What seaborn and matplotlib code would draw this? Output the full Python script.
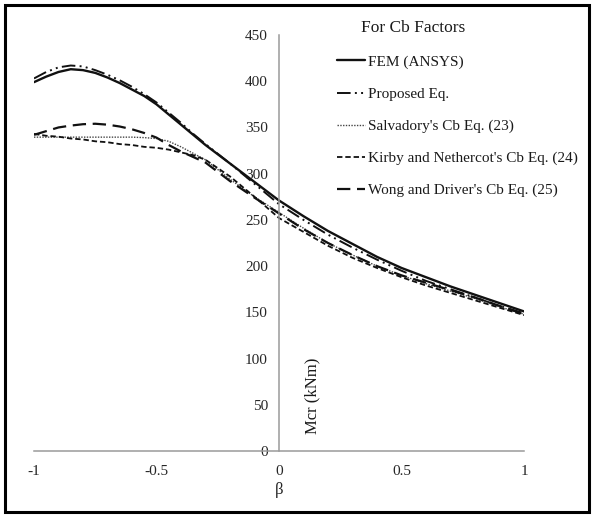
import matplotlib
matplotlib.use("Agg")
import matplotlib.pyplot as plt
import seaborn as sns
import pandas as pd
from matplotlib.patches import Rectangle

beta = [-1.0, -0.95, -0.9, -0.85, -0.8, -0.75, -0.7, -0.65, -0.6, -0.55, -0.5, -0.45,
        -0.4, -0.35, -0.3, -0.2, -0.1, 0.0, 0.1, 0.2, 0.3, 0.4, 0.5, 0.6, 0.7, 0.8, 0.9, 1.0]
fem = [399, 405, 410, 413, 412, 409, 404, 398, 391, 384, 375, 364,
       353, 342, 331, 311, 291, 271, 254, 238, 224, 210, 198, 188, 178, 169, 160, 151]
proposed = [403, 410, 415, 417, 416, 412, 407, 401, 394, 386, 377, 366,
            355, 343, 332, 311, 289, 267, 250, 234, 220, 207, 195, 184, 175, 166, 157, 149]
salvadory = [339.5, 339.5, 339.5, 339.5, 339.5, 339.5, 339.5, 339.5, 339.5, 339, 338, 335,
             329, 322, 315, 294, 275, 258, 241, 225, 212, 200, 190, 181, 173, 165, 156, 148]
kirby = [343, 341, 340, 338, 337, 335, 334, 332, 331, 329, 328, 326,
         323, 320, 315, 297, 275, 252, 237, 222, 209, 198, 188, 179, 171, 163, 155, 147]
wong = [342, 346, 350, 352, 353.5, 354, 353, 351, 348, 344, 339, 331,
        324, 318, 312, 292, 274, 257, 240, 225, 212, 200, 190, 182, 174, 166, 157, 148]

series_names = ["FEM (ANSYS)", "Proposed Eq.", "Salvadory's Cb Eq. (23)",
                "Kirby and Nethercot's Cb Eq. (24)", "Wong and Driver's Cb Eq. (25)"]
x_ticks = [-1, -0.5, 0, 0.5, 1]
x_tick_labels = ["-1", "-0.5", "0", "0.5", "1"]
y_ticks = [0, 50, 100, 150, 200, 250, 300, 350, 400, 450]

sns.set_style("white")
plt.rcParams["font.family"] = ["Liberation Serif", "DejaVu Serif"]

fig = plt.figure(figsize=(5.94, 5.16), dpi=100)
ax = fig.add_axes([34 / 594, 1 - 451 / 516, 490 / 594, 416 / 516])

styles = [
    dict(linestyle="-", linewidth=1.7, color="#111111"),
    dict(linestyle=(0, (7, 2.2, 1, 2.2, 1, 2.2)), linewidth=1.4, color="#111111"),
    dict(linestyle=(0, (1, 1)), linewidth=1.0, color="#444444"),
    dict(linestyle=(0, (3, 1.6)), linewidth=1.3, color="#111111"),
    dict(linestyle=(0, (6, 3)), linewidth=1.6, color="#111111"),
]
all_series = [fem, proposed, salvadory, kirby, wong]
for name, vals, st in zip(series_names, all_series, styles):
    df = pd.DataFrame({"beta": beta, "Mcr": vals})
    sns.lineplot(data=df, x="beta", y="Mcr", ax=ax, label=name, **st)

ax.set_xlim(-1, 1)
ax.set_ylim(0, 450)
ax.set_xticks(x_ticks)
ax.set_xticklabels(x_tick_labels)
ax.set_yticks(y_ticks)

for s in ["top", "right"]:
    ax.spines[s].set_visible(False)
ax.spines["left"].set_position(("data", 0))
ax.spines["bottom"].set_position(("data", 0))
for s in ["left", "bottom"]:
    ax.spines[s].set_color("#9a9a9a")
    ax.spines[s].set_linewidth(1.1)

ax.tick_params(axis="both", direction="out", length=4, width=1, color="#9a9a9a",
               labelsize=11, labelcolor="#262626", pad=4)
ax.tick_params(axis="x", pad=6)

ax.set_xlabel("β", fontsize=12, color="#262626", labelpad=3)
ax.set_ylabel("Mcr (kNm)", fontsize=12, color="#1a1a1a")
ax.yaxis.set_label_coords((320 - 34) / 490, (451 - 396) / 416)

leg = ax.legend(loc="upper left", bbox_to_anchor=(337 / 594, 1 - 55 / 516),
                bbox_transform=fig.transFigure, frameon=False, fontsize=11,
                handlelength=1.85, handletextpad=0.15, labelspacing=1.2,
                borderpad=0, borderaxespad=0)
for t in leg.get_texts():
    t.set_color("#1a1a1a")

fig.text(413 / 594, 1 - 28 / 516, "For Cb Factors", ha="center", va="center",
         fontsize=12.5, color="#1a1a1a")

fig.patches.append(Rectangle((5 / 594, 4 / 516), 584 / 594, 507 / 516,
                             transform=fig.transFigure, fill=False,
                             edgecolor="black", linewidth=2.2))

fig.savefig("out.png", dpi=100)
